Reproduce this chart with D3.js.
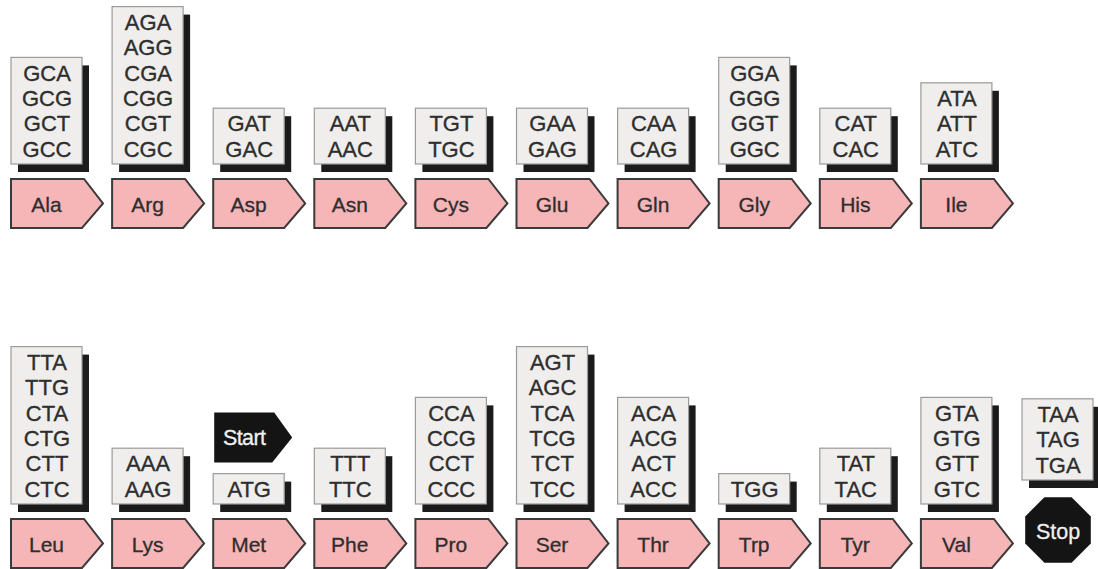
<!DOCTYPE html>
<html>
<head>
<meta charset="utf-8">
<script src="https://cdn.jsdelivr.net/npm/d3@7/dist/d3.min.js"></script>
<style>
html,body{margin:0;padding:0;background:#fff;}
svg{display:block;}
text{font-family:"Liberation Sans",Arial,Helvetica,sans-serif;}
</style>
</head>
<body>
<svg id="chart" width="1098" height="569"></svg>
<script>
// ---- data ----
const topAminoAcids = ["Ala","Arg","Asp","Asn","Cys","Glu","Gln","Gly","His","Ile"];
const topCodons = [
  ["GCA","GCG","GCT","GCC"],
  ["AGA","AGG","CGA","CGG","CGT","CGC"],
  ["GAT","GAC"],
  ["AAT","AAC"],
  ["TGT","TGC"],
  ["GAA","GAG"],
  ["CAA","CAG"],
  ["GGA","GGG","GGT","GGC"],
  ["CAT","CAC"],
  ["ATA","ATT","ATC"]
];
const bottomAminoAcids = ["Leu","Lys","Met","Phe","Pro","Ser","Thr","Trp","Tyr","Val","Stop"];
const bottomCodons = [
  ["TTA","TTG","CTA","CTG","CTT","CTC"],
  ["AAA","AAG"],
  ["ATG"],
  ["TTT","TTC"],
  ["CCA","CCG","CCT","CCC"],
  ["AGT","AGC","TCA","TCG","TCT","TCC"],
  ["ACA","ACG","ACT","ACC"],
  ["TGG"],
  ["TAT","TAC"],
  ["GTA","GTG","GTT","GTC"],
  ["TAA","TAG","TGA"]
];
const startLabel = "Start";
const startAfter = "Met";
const stopLabel = "Stop";

// ---- layout ----
const svg = d3.select("#chart");
const cols = d3.range(11);
const x = d3.scaleBand().domain(cols).range([11, 11 + 101.1 * 11]).paddingInner(0).paddingOuter(0);
const rowY = d3.scaleOrdinal().domain(["top","bottom"]).range([0, 340]);
const lineH = 25.4;
const boxW = 71, boxBottom = 164, shadowDx = 7, shadowDy = 8;
const arrowTop = 179, arrowH = 49, bodyW = 73, tipW = 19;
const textColor = "#2e2e2e";

const rows = [
  {key:"top", aas: topAminoAcids, codons: topCodons},
  {key:"bottom", aas: bottomAminoAcids, codons: bottomCodons}
];

function arrowPath(x0, y0, bw, tw, h) {
  const p = d3.path();
  p.moveTo(x0, y0);
  p.lineTo(x0 + bw, y0);
  p.lineTo(x0 + bw + tw, y0 + h / 2);
  p.lineTo(x0 + bw - 2, y0 + h);
  p.lineTo(x0, y0 + h);
  p.closePath();
  return p.toString();
}

function octagon(cx, cy, r) {
  const pts = d3.range(8).map(i => {
    const a = Math.PI / 8 + i * Math.PI / 4;
    return [cx + r * Math.cos(a), cy + r * Math.sin(a)];
  });
  return d3.line()(pts) + "Z";
}

rows.forEach(row => {
  const oy = rowY(row.key);
  row.aas.forEach((aa, i) => {
    const cx = x(i);
    const codons = row.codons[i];
    const g = svg.append("g");
    const h = codons.length * lineH + 5;
    const bBottom = aa === stopLabel ? oy + boxBottom - 24 : oy + boxBottom;
    const bTop = bBottom - h;
    // shadow
    g.append("rect").attr("x", cx + shadowDx).attr("y", bTop + shadowDy)
      .attr("width", boxW).attr("height", h).attr("fill", "#1b1b1b");
    // box
    g.append("rect").attr("x", cx).attr("y", bTop)
      .attr("width", boxW).attr("height", h)
      .attr("fill", "#efeeed").attr("stroke", "#9a9a9a").attr("stroke-width", 1.2);
    g.selectAll("text.codon").data(codons).join("text")
      .attr("class", "codon")
      .attr("x", cx + boxW / 2 + 0.5)
      .attr("y", (d, j) => bTop + 2.5 + lineH * (j + 0.5))
      .attr("dy", "0.36em")
      .attr("text-anchor", "middle")
      .attr("font-size", 22)
      .attr("fill", textColor)
      .attr("stroke", textColor).attr("stroke-width", 0.35)
      .text(d => d);

    if (aa === stopLabel) {
      const ocx = cx + 36, ocy = oy + 190;
      g.append("path").attr("d", octagon(ocx, ocy, 35.5)).attr("fill", "#141414");
      g.append("text").attr("x", ocx).attr("y", ocy + 1).attr("dy", "0.36em")
        .attr("text-anchor", "middle").attr("font-size", 21.5).attr("fill", "#f0f0f0")
        .attr("stroke", "#f0f0f0").attr("stroke-width", 0.3)
        .text(stopLabel);
    } else {
      const ay = oy + arrowTop;
      g.append("path").attr("d", arrowPath(cx, ay, bodyW, tipW, arrowH))
        .attr("fill", "#f6b5b7").attr("stroke", "#3a3a3a").attr("stroke-width", 2)
        .attr("stroke-linejoin", "miter");
      g.append("text").attr("x", cx + bodyW / 2 - 1).attr("y", ay + arrowH / 2 + 1)
        .attr("dy", "0.36em").attr("text-anchor", "middle").attr("font-size", 21)
        .attr("fill", textColor).attr("stroke", textColor).attr("stroke-width", 0.3)
        .text(aa);
    }

    if (aa === startAfter) {
      const sy = bTop - 61;
      g.append("path").attr("d", arrowPath(cx + 1, sy, 60, 18, 50)).attr("fill", "#141414");
      g.append("text").attr("x", cx + 31).attr("y", sy + 25).attr("dy", "0.36em")
        .attr("text-anchor", "middle").attr("font-size", 21.5).attr("fill", "#f0f0f0")
        .attr("stroke", "#f0f0f0").attr("stroke-width", 0.3)
        .attr("letter-spacing", "-0.6").text(startLabel);
    }
  });
});
</script>
</body>
</html>
